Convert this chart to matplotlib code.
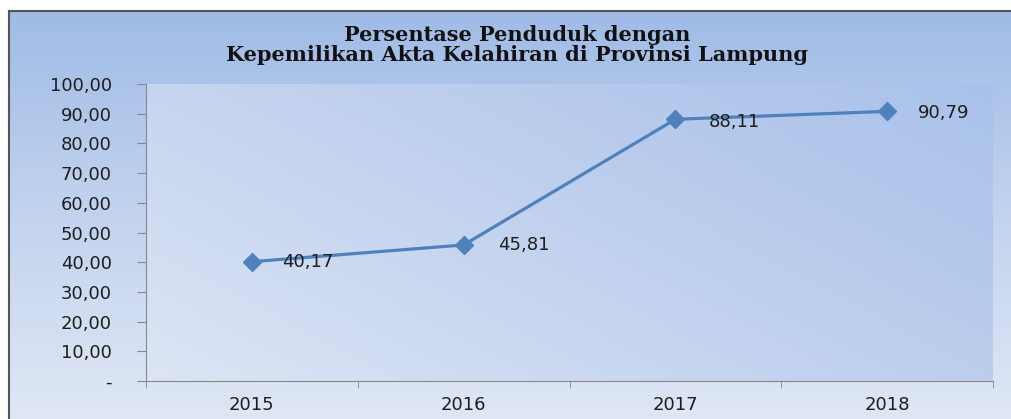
import numpy as np
import matplotlib.pyplot as plt
from matplotlib.colors import LinearSegmentedColormap

# data
years = ['2015', '2016', '2017', '2018']
persen = [40.17, 45.81, 88.11, 90.79]
label_txt = ['40,17', '45,81', '88,11', '90,79']
yticks = [0, 10, 20, 30, 40, 50, 60, 70, 80, 90, 100]
ytick_lbl = ['-'] + ['%d,00' % v for v in yticks[1:]]

W, H = 1011, 419
fig = plt.figure(figsize=(W / 100, H / 100), dpi=100)
fig.patch.set_facecolor('white')

# outer chart area with gradient (darker blue top, pale bottom)
bg = fig.add_axes([9 / W, 0, 1 - 9 / W, 1 - 11 / H], zorder=0)
cmap_bg = LinearSegmentedColormap.from_list('bg', ['#dfe7f5', '#c3d3ee', '#9fbbe6'])
grad = np.linspace(0, 1, 256).reshape(-1, 1)
bg.imshow(grad, aspect='auto', cmap=cmap_bg, origin='lower', extent=[0, 1, 0, 1])
bg.set_xlim(0, 1)
bg.set_ylim(0, 1)
bg.set_xticks([])
bg.set_yticks([])
for s in ['right', 'bottom']:
    bg.spines[s].set_visible(False)
for s in ['top', 'left']:
    bg.spines[s].set_color('#555555')
    bg.spines[s].set_linewidth(1.5)

# plot area
x0, x1, y0, y1 = 146, 993, 84, 381
ax = fig.add_axes([x0 / W, 1 - y1 / H, (x1 - x0) / W, (y1 - y0) / H], zorder=1)
ax.patch.set_alpha(0)
cmap_pa = LinearSegmentedColormap.from_list('pa', ['#dce5f5', '#c1d1ee', '#a9c1ea'])
xx, yy = np.meshgrid(np.linspace(0, 1, 200), np.linspace(0, 1, 100))
ax.imshow(0.6 * xx + 0.4 * yy, aspect='auto', cmap=cmap_pa, origin='lower',
          extent=[-0.5, 3.5, 0, 100], zorder=0)

xs = np.arange(len(years))
ax.plot(xs, persen, color='#4f81bd', lw=2.3, marker='D', markersize=9,
        markeredgecolor='#4f81bd', zorder=3)
offs = [(22, 0), (25, 0), (24, -2), (22, -1)]
for x, v, t, o in zip(xs, persen, label_txt, offs):
    ax.annotate(t, (x, v), xytext=o, textcoords='offset points',
                fontsize=13, color='#1e1e1e', va='center', ha='left',
                family='DejaVu Sans', zorder=4)

ax.set_xlim(-0.5, 3.5)
ax.set_ylim(0, 100)
ax.set_yticks(yticks)
ax.set_yticklabels(ytick_lbl, fontsize=13, family='DejaVu Sans', color='#1e1e1e')
ax.set_xticks(xs)
ax.set_xticklabels(years, fontsize=13, family='DejaVu Sans', color='#1e1e1e')
ax.set_xticks(np.arange(-0.5, 4, 1), minor=True)
ax.tick_params(axis='x', which='major', length=0, pad=11)
ax.tick_params(axis='x', which='minor', length=5, color='#888888', direction='out')
ax.tick_params(axis='y', length=6.5, color='#888888', pad=18, direction='out')
ax.spines['top'].set_visible(False)
ax.spines['right'].set_visible(False)
ax.spines['left'].set_color('#888888')
ax.spines['bottom'].set_color('#888888')

fig.text(517 / W, 1 - 45 / H, 'Persentase Penduduk dengan\nKepemilikan Akta Kelahiran di Provinsi Lampung',
         ha='center', va='center', fontsize=15, fontweight='bold',
         family='DejaVu Serif', color='#111111', linespacing=1.0)

fig.savefig('out.png', dpi=100)
